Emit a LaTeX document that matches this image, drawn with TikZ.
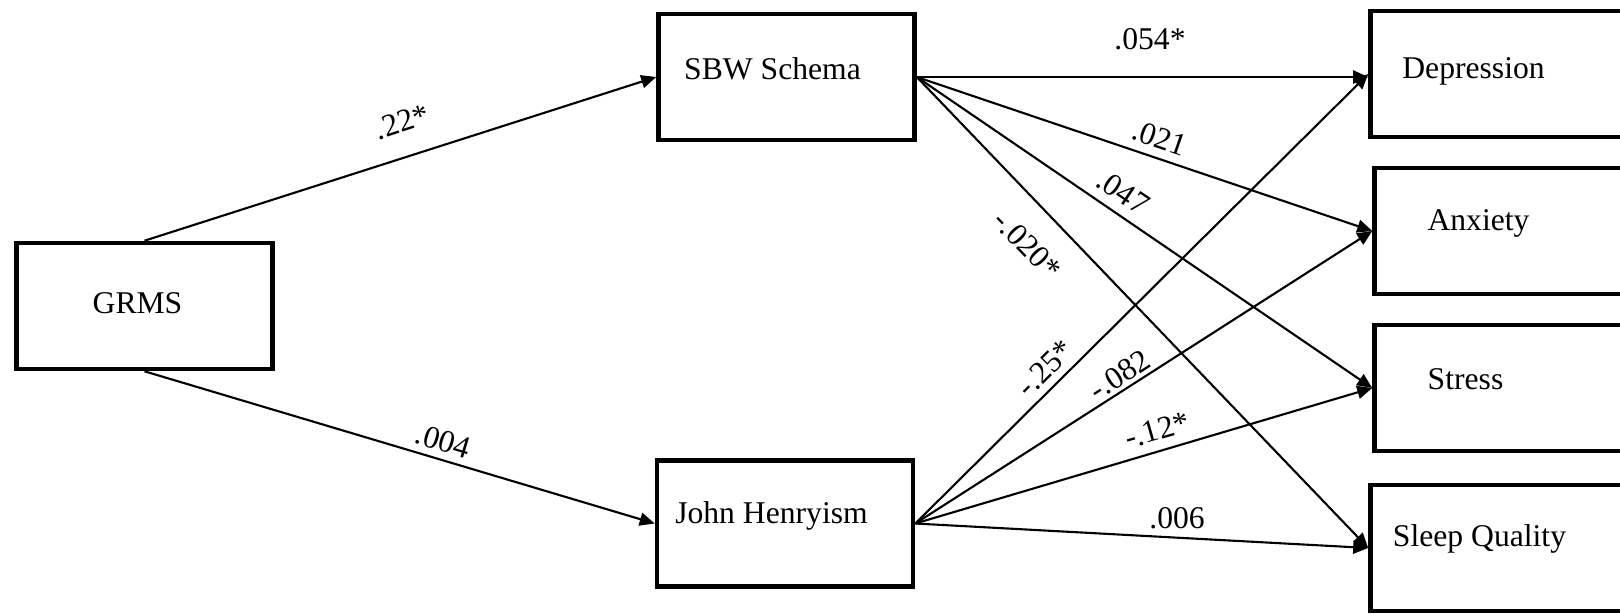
\documentclass[tikz,border=0pt]{standalone}
\usepackage{fontspec}
\setmainfont{Liberation Serif}
\usetikzlibrary{arrows.meta}

\begin{document}
\begin{tikzpicture}[
            scale=1,
            box/.style={rectangle, draw, line width=1.3pt, minimum width=2.56cm, minimum height=1.26cm},
            box_text/.style={font=\fontsize{9}{11}\selectfont, anchor=base},
            coef/.style={font=\fontsize{9}{11}\selectfont, inner sep=0pt},
            line/.style={draw, line width=0.6pt, -{Triangle[length=0.15cm, width=0.13cm]}}
        ]
        \useasboundingbox (0,0) rectangle (16.2,6.14);
        \clip (0,0) rectangle (16.2,6.14);

        % Predictor
        \node[box] (grms) at (1.445,3.08) {};
        \node[box_text] (grms_text) at (1.375,3.01) {GRMS};

        % Mediators
        \node[box] (sbw) at (7.865,5.37) {};
        \node[box_text] (sbw_text) at (7.725,5.35) {SBW Schema};
        \node[box] (jh) at (7.85,0.905) {};
        \node[box_text] (jh_text) at (7.715,0.91) {John Henryism};

        % Outcomes
        \node[box] (depression) at (14.985,5.40) {};
        \node[box_text] (depression_text) at (14.735,5.36) {Depression};
        \node[box] (anxiety) at (15.025,3.83) {};
        \node[box_text] (anxiety_text) at (14.785,3.84) {Anxiety};
        \node[box] (stress) at (15.025,2.26) {};
        \node[box_text] (stress_text) at (14.655,2.25) {Stress};
        \node[box] (sleep) at (14.985,0.66) {};
        \node[box_text] (sleep_text) at (14.795,0.68) {Sleep Quality};

        \draw[line] (grms.north) -- (sbw.west);
        \draw[line] (grms.south) -- (jh.west);

        \draw[line] (sbw.east) -- (sbw.east -| depression.west);
        \draw[line] (sbw.east) -- (anxiety.west);
        \draw[line] (sbw.east) -- (stress.west);
        \draw[line] (sbw.east) -- (sleep.west);

        \draw[line] (jh.east) -- (depression.west);
        \draw[line] (jh.east) -- (anxiety.west);
        \draw[line] (jh.east) -- (stress.west);
        \draw[line] (jh.east) -- (sleep.west);

        % Path coefficients
        \node[coef, rotate=18] (c_grms_sbw) at (4.02,4.92) {.22*};
        \node[coef, rotate=-17] (c_grms_jh) at (4.43,1.73) {.004};

        \node[coef] (c_sbw_dep) at (11.50,5.75) {.054*};
        \node[coef, rotate=-19] (c_sbw_anx) at (11.60,4.76) {.021};
        \node[coef, rotate=-34] (c_sbw_str) at (11.23,4.22) {.047};
        \node[coef, rotate=-46] (c_sbw_slp) at (10.27,3.69) {-.020*};

        \node[coef, rotate=45] (c_jh_dep) at (10.45,2.46) {-.25*};
        \node[coef, rotate=33] (c_jh_anx) at (11.20,2.39) {-.082};
        \node[coef, rotate=16] (c_jh_str) at (11.57,1.84) {-.12*};
        \node[coef] (c_jh_slp) at (11.77,0.96) {.006};

    \end{tikzpicture}
\end{document}
